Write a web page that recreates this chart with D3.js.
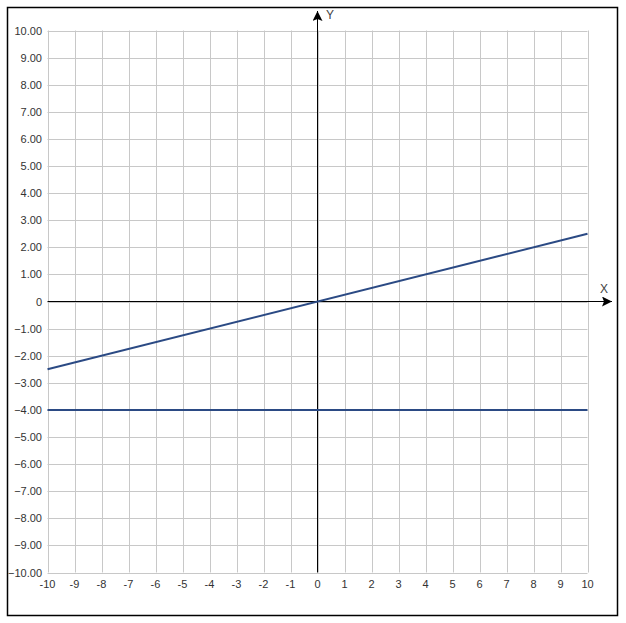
<!DOCTYPE html>
<html><head><meta charset="utf-8">
<script src="https://cdn.jsdelivr.net/npm/d3@7"></script>
<style>body{margin:0;background:#fff}svg{display:block}</style>
</head><body><svg id="c" width="626" height="623"></svg>
<script>
const xTicks = d3.range(-10, 11, 1);
const yTicks = d3.range(-10, 11, 1);
const seriesA = [{x:-10,y:-2.5},{x:10,y:2.5}];
const seriesB = [{x:-10,y:-4},{x:10,y:-4}];

const svg = d3.select('#c');
svg.append('rect').attr('x',7.5).attr('y',7.5).attr('width',610).attr('height',608)
  .attr('fill','#fff').attr('stroke','#000').attr('stroke-width',1.5);

const x = d3.scaleLinear().domain([-10,10]).range([47.5,587.5]);
const y = d3.scaleLinear().domain([-10,10]).range([572.5,30.5]);
const font = "'Liberation Sans', Arial, sans-serif";

const g = svg.append('g');
g.selectAll('.vg').data(xTicks).join('line')
  .attr('x1',d=>Math.round(x(d))+0.5).attr('x2',d=>Math.round(x(d))+0.5)
  .attr('y1',y(10)).attr('y2',y(-10)).attr('stroke','#c8c8c8').attr('stroke-width',1);
g.selectAll('.hg').data(yTicks).join('line')
  .attr('y1',d=>Math.round(y(d))+0.5).attr('y2',d=>Math.round(y(d))+0.5)
  .attr('x1',x(-10)).attr('x2',x(10)).attr('stroke','#c8c8c8').attr('stroke-width',1);

// tick labels
g.selectAll('.yl').data(yTicks).join('text')
  .attr('x',42).attr('y',d=>y(d)+4).attr('text-anchor','end')
  .attr('font-family',font).attr('font-size',11).attr('fill','#333')
  .text(d=>d===0?'0':d3.format('.2f')(d));
g.selectAll('.xl').data(xTicks).join('text')
  .attr('x',d=>x(d)).attr('y',588).attr('text-anchor','middle')
  .attr('font-family',font).attr('font-size',11).attr('fill','#333')
  .text(d=>d);

// axes
const defs = svg.append('defs');
defs.append('marker').attr('id','arr').attr('viewBox','0 0 10 10').attr('refX',10).attr('refY',5)
  .attr('markerWidth',10).attr('markerHeight',10).attr('markerUnits','userSpaceOnUse').attr('orient','auto')
  .append('path').attr('d','M0,0 L10,5 L0,10 L2,5 Z').attr('fill','#000');
g.append('line').attr('x1',x(-10)).attr('x2',612).attr('y1',y(0)).attr('y2',y(0))
  .attr('stroke','#000').attr('stroke-width',1).attr('marker-end','url(#arr)');
g.append('line').attr('x1',x(0)).attr('x2',x(0)).attr('y1',y(-10)).attr('y2',11)
  .attr('stroke','#000').attr('stroke-width',1).attr('marker-end','url(#arr)');
g.append('text').attr('x',604).attr('y',y(0)-9).attr('text-anchor','middle')
  .attr('font-family',font).attr('font-size',12).attr('fill','#444').text('X');
g.append('text').attr('x',330).attr('y',19).attr('text-anchor','middle')
  .attr('font-family',font).attr('font-size',12).attr('fill','#444').text('Y');

const line = d3.line().x(d=>x(d.x)).y(d=>y(d.y));
[seriesA, seriesB].forEach(s=>{
  g.append('path').datum(s).attr('d',line).attr('fill','none')
    .attr('stroke','#2b4a84').attr('stroke-width',2);
});
</script></body></html>
